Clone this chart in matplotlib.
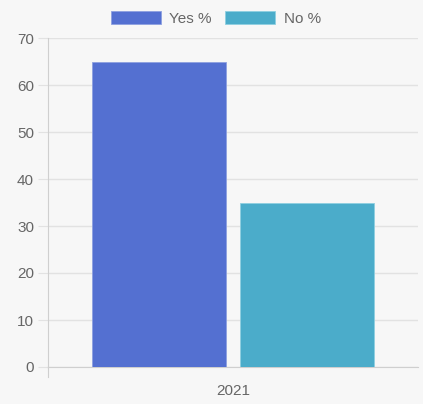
import matplotlib.pyplot as plt

categories = ["2021"]
series_names = ["Yes %", "No %"]
yes_values = [65]
no_values = [35]
y_ticks = [0, 10, 20, 30, 40, 50, 60, 70]

W, H, DPI = 423, 404, 100
bg = "#f7f7f7"
grid = "#e2e2e2"
text = "#666666"
colors = ["#5470d1", "#4bacca"]

plt.rcParams["font.family"] = ["Liberation Sans", "DejaVu Sans"]

fig = plt.figure(figsize=(W / DPI, H / DPI), dpi=DPI, facecolor=bg)
ax = fig.add_axes((48 / W, (H - 367) / H, 370 / W, (367 - 38) / H))
ax.set_facecolor(bg)

x = list(range(len(categories)))
ax.bar([i - 0.2 for i in x], yes_values, width=0.36, color=colors[0],
       edgecolor="#8ea0e0", linewidth=0.6, label=series_names[0], zorder=3)
ax.bar([i + 0.2 for i in x], no_values, width=0.36, color=colors[1],
       edgecolor="#8fcfe0", linewidth=0.6, label=series_names[1], zorder=3)

ax.set_xlim(-0.5, 0.5)
ax.set_ylim(0, 70)
ax.set_yticks(y_ticks)
ax.set_xticks(x)
ax.set_xticklabels(categories)
ax.grid(axis="y", color=grid, linewidth=1, zorder=0)
ax.tick_params(axis="y", length=7, color=grid, labelcolor=text, labelsize=11, pad=3)
ax.tick_params(axis="x", length=0, labelcolor=text, labelsize=11, pad=12)
for side in ("top", "right"):
    ax.spines[side].set_visible(False)
ax.spines["left"].set_color("#cfcfcf")
ax.spines["bottom"].set_color("#cfcfcf")
# small stub below the origin, as in the reference
ax.plot([-0.5, -0.5], [0, -2.2], color="#cfcfcf", linewidth=0.8, clip_on=False)

fig.legend(loc="upper center", bbox_to_anchor=(0.51, 1.008), ncol=2, frameon=False,
           fontsize=11, labelcolor=text, handlelength=3.3, handleheight=1.0,
           columnspacing=0.85, handletextpad=0.55)

fig.savefig("out.png", dpi=DPI, facecolor=bg)
